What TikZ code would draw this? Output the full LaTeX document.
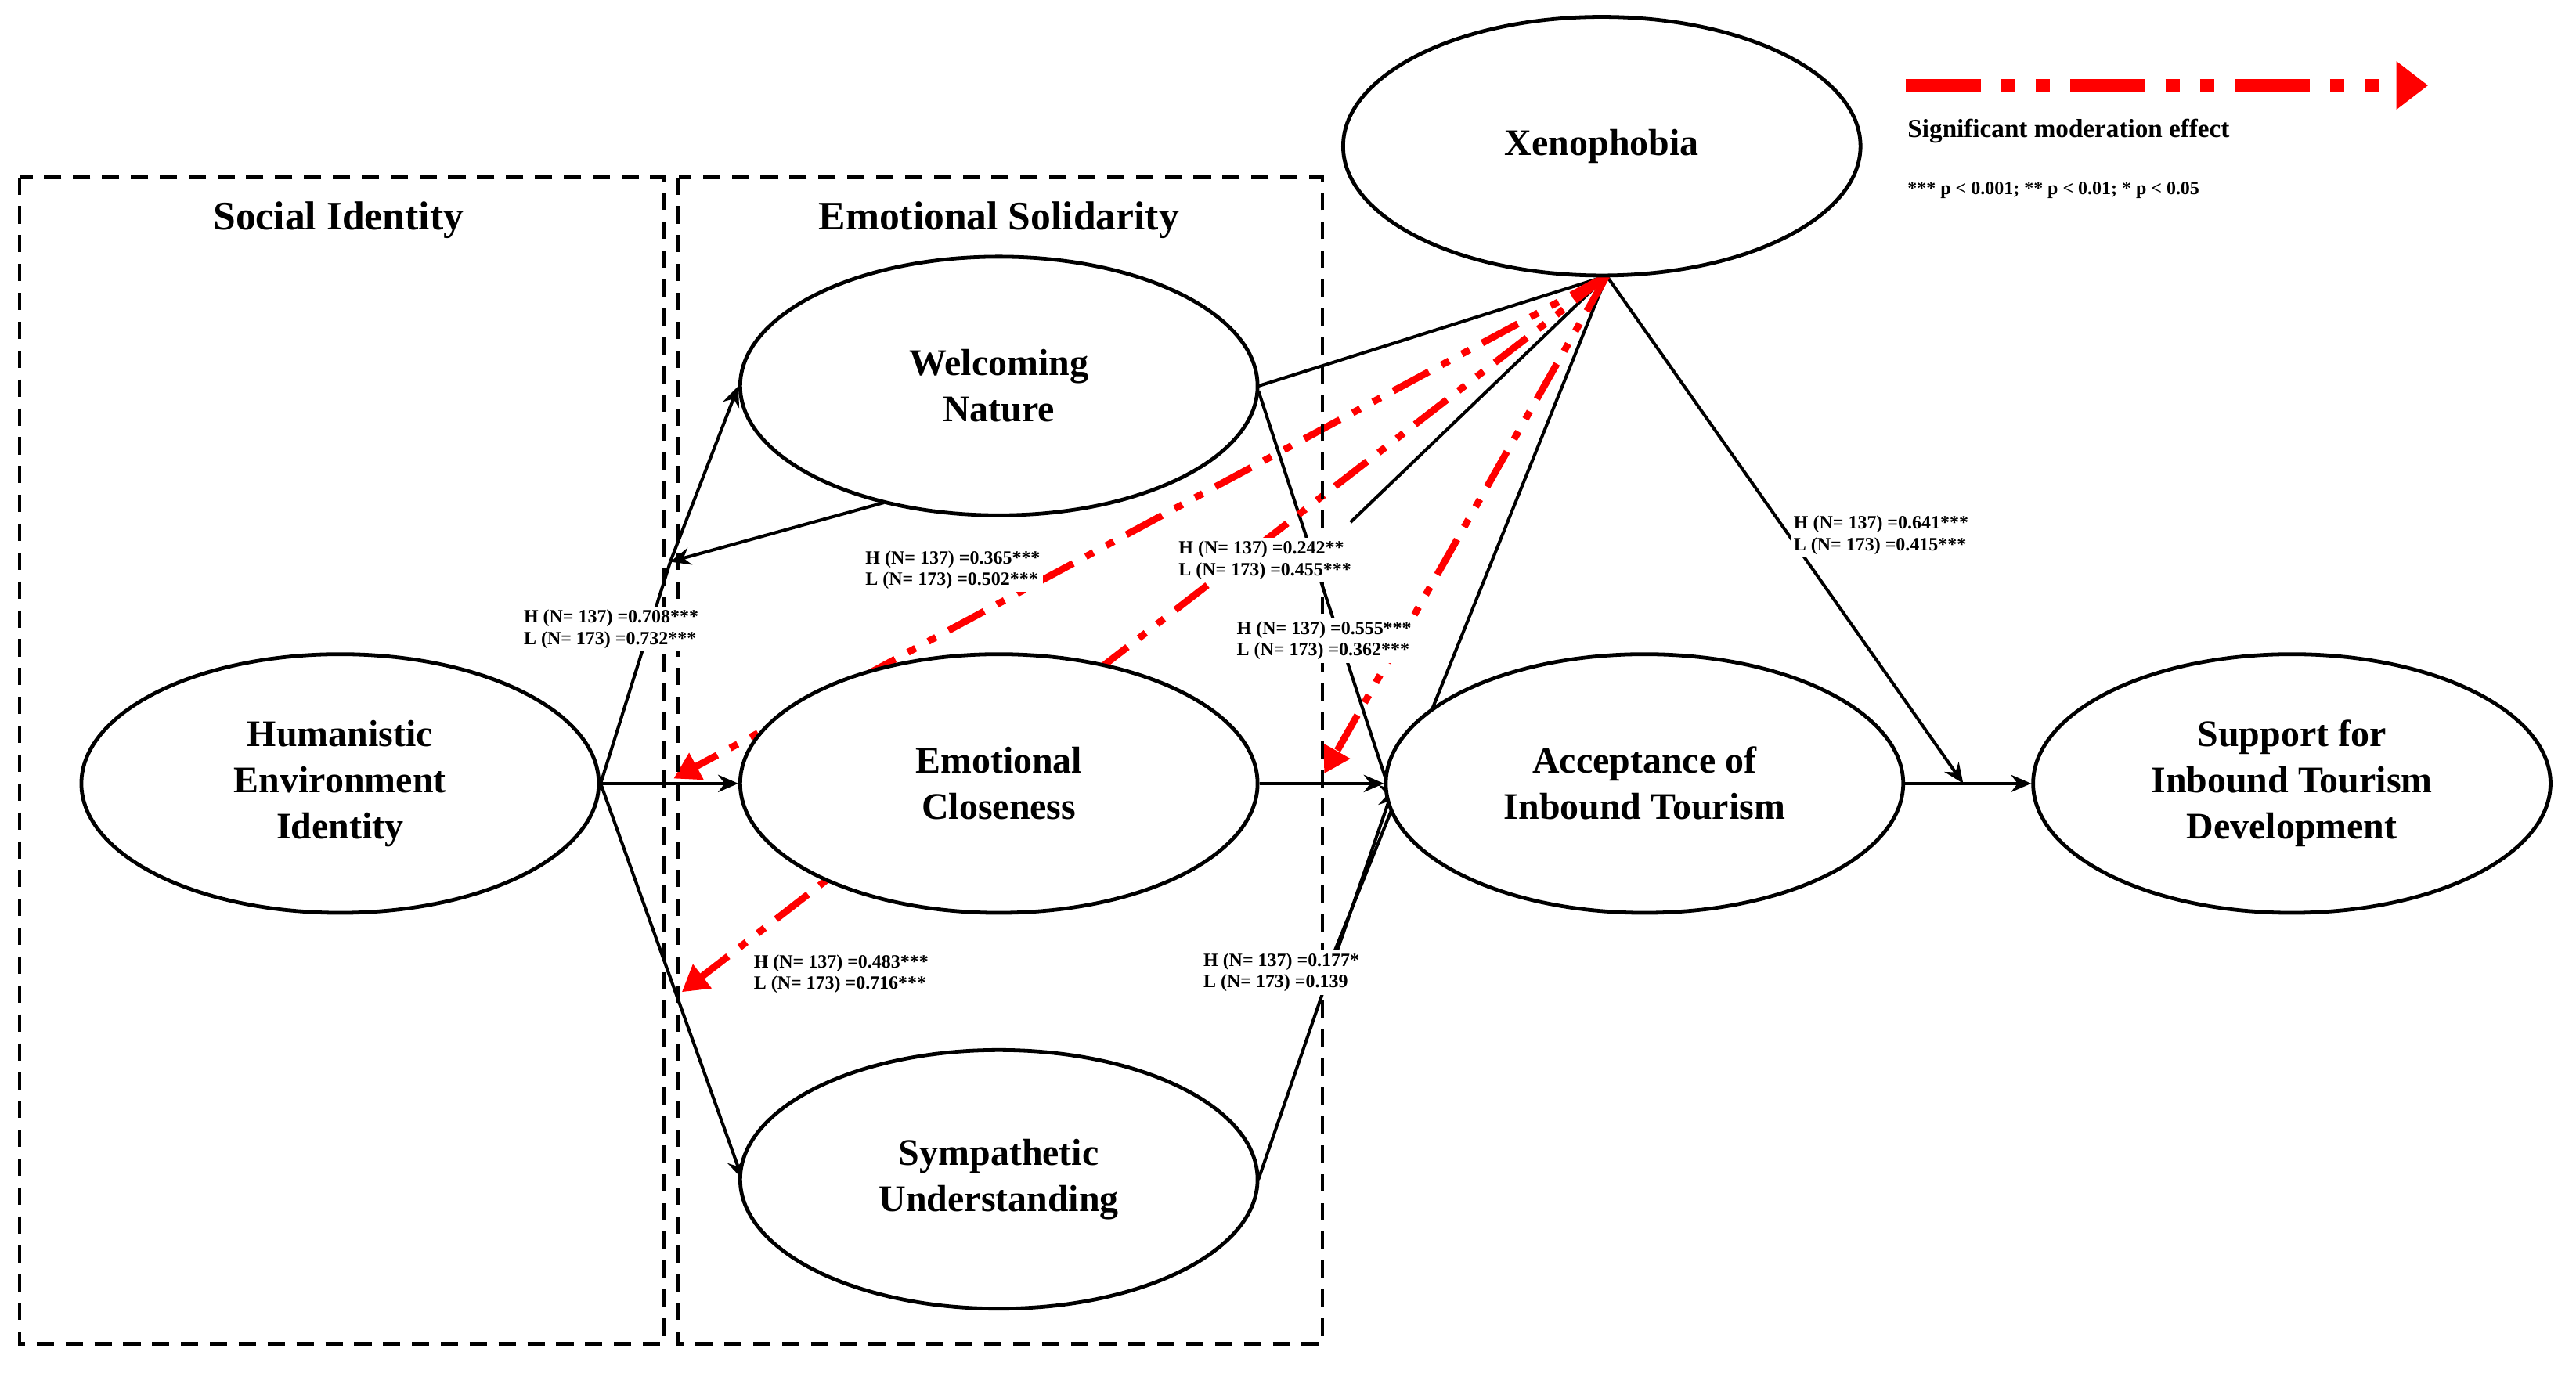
\documentclass[tikz,border=0pt]{standalone}
\usepackage{fontspec}
\setmainfont{Liberation Serif}
\usetikzlibrary{positioning, calc, arrows.meta, shapes.geometric, backgrounds}

\tikzset{
  latent/.style={ellipse, draw, line width=1.3pt, fill=white, minimum width=6.3cm, minimum height=3.15cm, inner sep=0pt, align=center, font=\fontsize{13}{16}\selectfont\bfseries},
  coef/.style={fill=white, inner sep=1pt, align=left, font=\fontsize{6.5}{7.5}\selectfont\bfseries},
  path/.style={line width=1.1pt, -{Stealth[length=7pt, width=6pt]}},
  plain/.style={line width=1.1pt},
  moder/.style={red, line width=2.4pt, dash pattern=on 14pt off 5pt on 3pt off 5pt on 3pt off 5pt, -{Triangle[length=9pt, width=10pt]}},
  block/.style={draw, line width=1.2pt, dash pattern=on 6pt off 4pt}
}

\begin{document}
\begin{tikzpicture}[x=0.02cm, y=-0.02cm]
\useasboundingbox (0,0) rectangle (1568,838);

\draw[block] (12,108) rectangle (404,818);
\draw[block] (413,108) rectangle (805,818);
\node[font=\fontsize{14}{16}\selectfont\bfseries] (tsoc) at (206,134) {Social Identity};
\node[font=\fontsize{14}{16}\selectfont\bfseries] (temo) at (608,134) {Emotional Solidarity};

\node[latent] (hei) at (207,477) {Humanistic\\Environment\\Identity};
\node[latent] (wel) at (608,235) {Welcoming\\Nature};
\node[latent] (clo) at (608,477) {Emotional\\Closeness};
\node[latent] (sym) at (608,718) {Sympathetic\\Understanding};
\node[latent] (acc) at (1001,477) {Acceptance of\\Inbound Tourism};
\node[latent] (sup) at (1395,477) {Support for\\Inbound Tourism\\Development};
\node[latent] (xen) at (975,89) {Xenophobia};

\coordinate (xb) at (978,168);
\coordinate (k1) at (408,342);
\coordinate (m1) at (822,318);
\coordinate (m2) at (812,580);
\coordinate (m3) at (1195,477);

% paths, behind the ellipses
\begin{scope}[on background layer]
\draw[plain] (hei.east) -- (k1);
\draw[path] (k1) -- (wel.west);
\draw[path] (wel.south west) ++(0,0) coordinate (w1) (538,306) -- (k1);
\draw[path] (hei.east) -- (clo.west);
\draw[path] (hei.east) -- (452,718) coordinate (s1);
\draw[path] (766,238) -- (848,488);
\draw[path] (clo.east) -- (acc.west);
\draw[path] (766,718) -- (848,480);
\draw[path] (acc.east) -- (sup.west);
\draw[plain] (xb) -- (766,235);
\draw[plain] (xb) -- (m1);
\draw[plain] (xb) -- (m2);
\draw[path] (xb) -- (m3);
\draw[moder] (xb) -- (410,474);
\draw[moder] (xb) -- (415,604);
\draw[moder] (xb) -- (806,471);
\end{scope}

\node[coef] (c1) at (372,383) {H (N= 137) =0.708***\\L (N= 173) =0.732***};
\node[coef] (c2) at (580,347) {H (N= 137) =0.365***\\L (N= 173) =0.502***};
\node[coef] (c3) at (770,341) {H (N= 137) =0.242**\\L (N= 173) =0.455***};
\node[coef] (c4) at (806,390) {H (N= 137) =0.555***\\L (N= 173) =0.362***};
\node[coef] (c5) at (1145,326) {H (N= 137) =0.641***\\L (N= 173) =0.415***};
\node[coef] (c6) at (512,593) {H (N= 137) =0.483***\\L (N= 173) =0.716***};
\node[coef] (c7) at (780,592) {H (N= 137) =0.177*\\L (N= 173) =0.139};

% legend
\coordinate (l1) at (1160,52);
\coordinate (l2) at (1478,52);
\draw[red, line width=4.5pt, dash pattern=on 26pt off 7pt on 5pt off 7pt on 5pt off 7pt, -{Triangle[length=11pt, width=16pt]}] (l1) -- (l2);
\node[anchor=west, font=\fontsize{9}{11}\selectfont\bfseries] (lt1) at (1155,80) {Significant moderation effect};
\node[anchor=west, font=\fontsize{6.5}{8}\selectfont\bfseries] (lt2) at (1155,116) {*** p < 0.001; ** p < 0.01; * p < 0.05};
\end{tikzpicture}
\end{document}
